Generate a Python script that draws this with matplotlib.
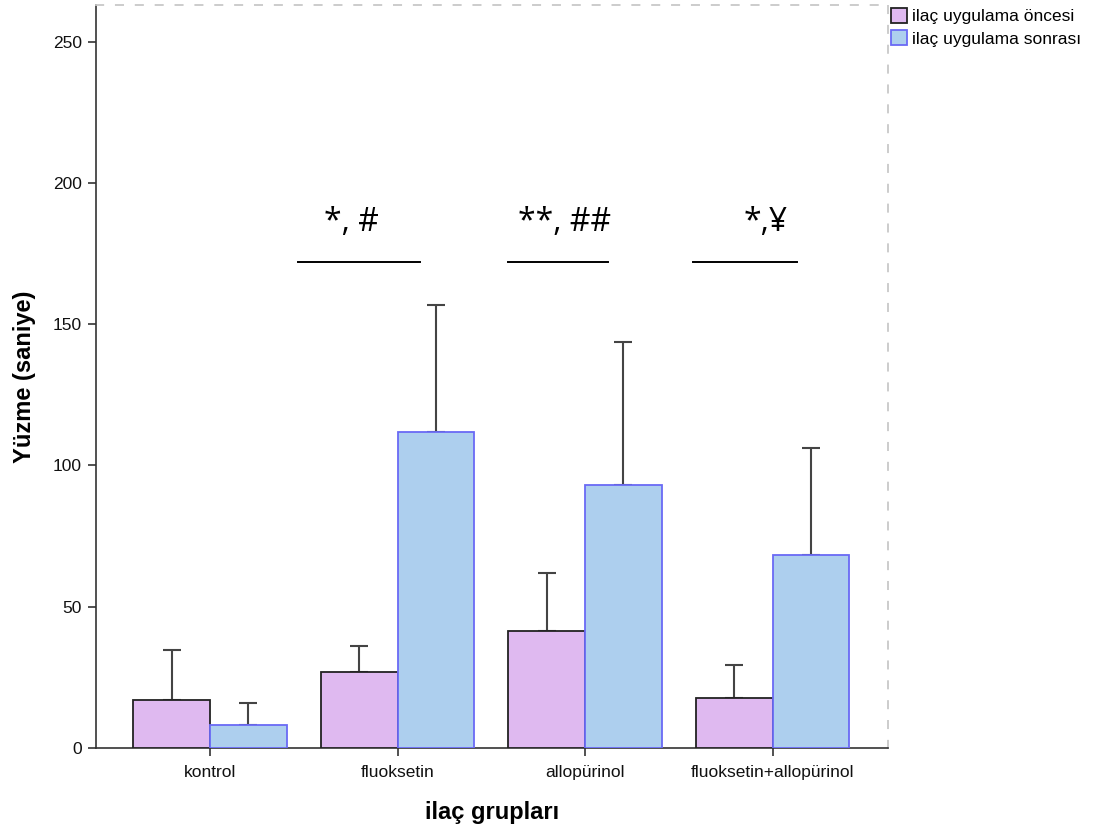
import matplotlib
matplotlib.use("Agg")
import matplotlib.pyplot as plt
import numpy as np
from matplotlib.patches import Patch

groups = ["kontrol", "fluoksetin", "allopürinol", "fluoksetin+allopürinol"]
before_mean = [17.0, 26.9, 41.4, 17.7]
before_err = [17.7, 9.3, 20.6, 11.7]
after_mean = [8.1, 111.9, 93.1, 68.3]
after_err = [7.8, 45.0, 50.7, 37.9]
series_names = ["ilaç uygulama öncesi", "ilaç uygulama sonrası"]
yticks = [0, 50, 100, 150, 200, 250]

annot_texts = ["*, #", "**, ##", "*,¥"]
annot_x = [0.755, 1.89, 2.965]
annot_y = [186, 186, 186]
line_x0 = [0.47, 1.59, 2.576]
line_x1 = [1.12, 2.123, 3.131]
line_y = [172.1, 172.1, 172.1]

pink = "#DFB9F0"
blue = "#ADCFEE"
blue_edge = "#6A6AF5"

fig = plt.figure(figsize=(10.99, 8.33), dpi=100)
ax = fig.add_axes([96/1099, 1-748/833, (888-96)/1099, (748-5)/833])

x = np.arange(len(groups))
w = 0.41
ax.bar(x - w/2, before_mean, w, color=pink, edgecolor="#222222", linewidth=1.3, zorder=3)
ax.bar(x + w/2, after_mean, w, color=blue, edgecolor=blue_edge, linewidth=1.3, zorder=3)
ax.errorbar(x - w/2, before_mean, yerr=[np.zeros(4), before_err], fmt="none",
            ecolor="#444444", elinewidth=1.5, capsize=6.5, capthick=1.5, zorder=2)
ax.errorbar(x + w/2, after_mean, yerr=[np.zeros(4), after_err], fmt="none",
            ecolor="#444444", elinewidth=1.5, capsize=6.5, capthick=1.5, zorder=2)

ax.set_xlim(-0.608, 3.616)
ax.set_ylim(0, 263)
ax.set_yticks(yticks)
ax.set_xticks(x)
ax.set_xticklabels(groups, family="Liberation Sans", fontsize=12.5)
for lab in ax.get_yticklabels():
    lab.set_family("Liberation Sans")
    lab.set_fontsize(12.5)

ax.spines["left"].set_color("#333333")
ax.spines["bottom"].set_color("#333333")
ax.spines["left"].set_linewidth(1.2)
ax.spines["bottom"].set_linewidth(1.2)
for s in ["top", "right"]:
    ax.spines[s].set_color("#C8C8C8")
    ax.spines[s].set_linestyle((0, (4, 7)))
    ax.spines[s].set_linewidth(1.3)
ax.tick_params(axis="both", colors="#333333", length=6, width=1.2)
ax.tick_params(axis="x", pad=6.5)
ax.tick_params(axis="y", pad=4)
ax.tick_params(axis="both", labelcolor="#111111")

ax.set_ylabel("Yüzme (saniye)", family="Liberation Sans", fontsize=17, fontweight="bold")
ax.yaxis.set_label_coords((25-96)/792, 0.5)
ax.set_xlabel("ilaç grupları", family="Liberation Sans", fontsize=17, fontweight="bold")
ax.xaxis.set_label_coords(0.5, -(813-748)/743)
ax.xaxis.label.set_va("center")
ax.yaxis.label.set_va("center")

for t, tx, ty in zip(annot_texts, annot_x, annot_y):
    ax.text(tx, ty, t, ha="center", va="center", fontsize=23, family="Open Sans")
for a0, a1, ly in zip(line_x0, line_x1, line_y):
    ax.plot([a0, a1], [ly, ly], color="black", linewidth=1.4, clip_on=False)

handles = [Patch(facecolor=pink, edgecolor="#222222", linewidth=1.3),
           Patch(facecolor=blue, edgecolor=blue_edge, linewidth=1.3)]
leg = fig.legend(handles, series_names, loc="upper left", bbox_to_anchor=(889/1099, 1-6/833),
                 frameon=False, prop={"family": "Liberation Sans", "size": 12.5},
                 handlelength=0.95, handleheight=0.95, handletextpad=0.25, labelspacing=0.35,
                 borderaxespad=0, borderpad=0.1)

fig.savefig("out.png", dpi=100)
